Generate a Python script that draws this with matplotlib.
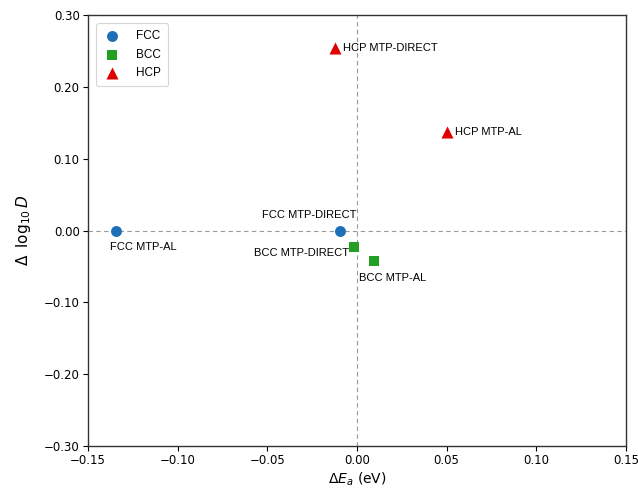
import matplotlib
matplotlib.use("Agg")
import matplotlib.pyplot as plt

# Data
groups = ["FCC", "BCC", "HCP"]
fcc_x = [-0.1345, -0.0095]
fcc_y = [0.0, 0.0]
bcc_x = [-0.0015, 0.0097]
bcc_y = [-0.023, -0.043]
hcp_x = [-0.0125, 0.0502]
hcp_y = [0.254, 0.137]
fcc_labels = ["FCC MTP-AL", "FCC MTP-DIRECT"]
bcc_labels = ["BCC MTP-DIRECT", "BCC MTP-AL"]
hcp_labels = ["HCP MTP-DIRECT", "HCP MTP-AL"]
xticks = [-0.15, -0.10, -0.05, 0.00, 0.05, 0.10, 0.15]
yticks = [-0.30, -0.20, -0.10, 0.00, 0.10, 0.20, 0.30]

W, H = 638, 491
fig = plt.figure(figsize=(W / 100, H / 100), dpi=100)
left, right, top, bottom = 88, 626, 15, 446
ax = fig.add_axes([left / W, 1 - bottom / H, (right - left) / W, (bottom - top) / H])

ax.axhline(0, color="#999999", lw=0.8, ls=(0, (4, 3)), zorder=1)
ax.axvline(0, color="#999999", lw=0.8, ls=(0, (4, 3)), zorder=1)

ax.scatter(fcc_x, fcc_y, s=62, marker="o", color="#1f6fb8", label="FCC", zorder=3, linewidths=0)
ax.scatter(bcc_x, bcc_y, s=62, marker="s", color="#23a023", label="BCC", zorder=3, linewidths=0)
ax.scatter(hcp_x, hcp_y, s=75, marker="^", color="#e00000", label="HCP", zorder=3, linewidths=0)

lab_font = dict(family=["Liberation Sans", "DejaVu Sans"], fontsize=8)
# label offsets (points)
offsets = {
    "FCC MTP-AL": ((-4, -12), "left"),
    "FCC MTP-DIRECT": ((12, 11), "right"),
    "BCC MTP-DIRECT": ((-4, -4), "right"),
    "BCC MTP-AL": ((-11, -12), "left"),
    "HCP MTP-DIRECT": ((6, 0), "left"),
    "HCP MTP-AL": ((6, 0), "left"),
}
for xs, ys, labs in [(fcc_x, fcc_y, fcc_labels), (bcc_x, bcc_y, bcc_labels), (hcp_x, hcp_y, hcp_labels)]:
    for x, y, l in zip(xs, ys, labs):
        off, ha = offsets[l]
        ax.annotate(l, (x, y), xytext=off, textcoords="offset points",
                    ha=ha, va="center", **lab_font)

ax.set_xlim(-0.15, 0.15)
ax.set_ylim(-0.30, 0.30)
ax.set_xticks(xticks)
ax.set_yticks(yticks)
ax.set_xticklabels([f"{v:.2f}".replace("-", "\u2212") for v in xticks])
ax.set_yticklabels([f"{v:.2f}".replace("-", "\u2212") for v in yticks])
ax.tick_params(labelsize=8.5, length=3.5, width=0.8, pad=2.5)
for s in ax.spines.values():
    s.set_linewidth(1.0)
    s.set_color("#333333")

ax.set_xlabel(r"$\Delta E_a$ (eV)", fontsize=10, labelpad=2)
ax.set_ylabel(r"$\Delta\;\;\log_{10} D$", fontsize=11, labelpad=8)

leg = ax.legend(loc="upper left", prop={"family": ["Liberation Sans", "DejaVu Sans"], "size": 8.5},
                handlelength=1.5, handletextpad=1.3, labelspacing=0.55, borderpad=0.6,
                frameon=True, borderaxespad=0.7)
leg.get_frame().set_edgecolor("#cccccc")
leg.get_frame().set_linewidth(0.8)

fig.savefig("out.png", dpi=100)
